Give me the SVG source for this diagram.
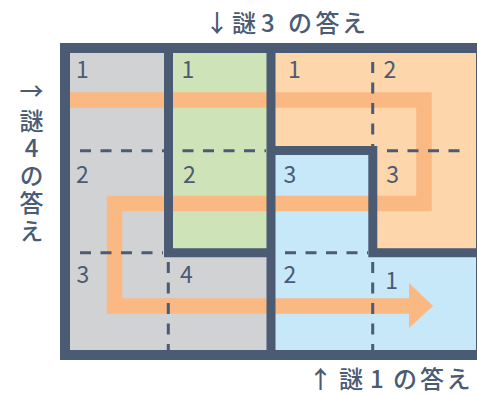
<svg xmlns="http://www.w3.org/2000/svg" width="477" height="395" viewBox="0 0 477 395">
  <style>
    .wall { fill: none; stroke: #4b5b73; stroke-width: 9; stroke-linejoin: miter; }
    .frame { fill: none; stroke: #4b5b73; stroke-width: 10; }
    .dash { stroke: #4b5b73; stroke-width: 3; stroke-dasharray: 11 9.5; fill: none; }
    .num { font-family: "Noto Sans CJK JP", "Noto Sans", sans-serif; font-size: 23px; fill: #4b5b73; text-anchor: middle; }
    .lbl { font-family: "Noto Sans CJK JP", "Noto Sans", sans-serif; font-size: 24px; fill: #4b5b73; font-weight: 500; }
    .mid { text-anchor: middle; }
    .vert { font-family: "Noto Sans CJK JP", "Noto Sans", sans-serif; font-size: 24px; fill: #4b5b73; font-weight: 500; writing-mode: vertical-rl; text-orientation: upright; letter-spacing: 3.6px; }
    .route { fill: none; stroke: #fab882; stroke-width: 15.5; stroke-linejoin: miter; }
  </style>
  <rect width="477" height="395" fill="#ffffff"/>

  <g id="cell-gray">
    <polygon points="70,53 168,53 168,253 271,253 271,351 70,351" fill="#d1d2d4"/>
  </g>
  <g id="cell-green">
    <rect x="168" y="53" width="103" height="200" fill="#cfe3b9"/>
  </g>
  <g id="cell-orange">
    <polygon points="271,53 477,53 477,253 373,253 373,150.5 271,150.5" fill="#fdd6ac"/>
  </g>
  <g id="cell-blue">
    <polygon points="271,150.5 373,150.5 373,253 477,253 477,351 271,351" fill="#c6e8f8"/>
  </g>

  <g id="connectors">
    <path class="route" d="M70 100 H424 V203.5 H114.5 V306 H410"/>
    <polygon points="409,283 433,306 409,328" fill="#fab882"/>
  </g>

  <g id="walls">
    <rect class="frame" x="65" y="48" width="416" height="307"/>
    <path class="wall" d="M168.5 48 V252.8 H271"/>
    <path class="wall" d="M271 48 V355"/>
    <path class="wall" d="M271 150.5 H372.8 V252.8 H476"/>
  </g>

  <g id="dashes">
    <line class="dash" x1="80" y1="150.7" x2="266" y2="150.7"/>
    <line class="dash" x1="387" y1="150.7" x2="466" y2="150.7"/>
    <line class="dash" x1="80" y1="252.7" x2="163" y2="252.7"/>
    <line class="dash" x1="285" y1="252.7" x2="368" y2="252.7"/>
    <line class="dash" x1="372.7" y1="62" x2="372.7" y2="146"/>
    <line class="dash" x1="372.7" y1="262" x2="372.7" y2="350"/>
    <line class="dash" x1="168.3" y1="262" x2="168.3" y2="350"/>
  </g>

  <g id="numbers">
    <text class="num" x="82.5" y="78">1</text>
    <text class="num" x="188" y="78">1</text>
    <text class="num" x="294.5" y="78">1</text>
    <text class="num" x="390" y="78">2</text>
    <text class="num" x="82.5" y="183">2</text>
    <text class="num" x="189.3" y="183">2</text>
    <text class="num" x="290" y="183">3</text>
    <text class="num" x="392.7" y="183">3</text>
    <text class="num" x="83" y="283">3</text>
    <text class="num" x="186.3" y="283">4</text>
    <text class="num" x="290" y="283">2</text>
    <text class="num" x="391.7" y="289">1</text>
  </g>

  <g id="labels">
    <text class="lbl" y="32" x="205 229 232 256 260.9 274.2 288 315.5 342">↓ 謎 3 の答え</text>
    <text class="lbl" y="388" x="308.5 332.5 339 363 369.9 383.2 393 420 446.5">↑ 謎 1 の答え</text>
    <text class="lbl mid" x="31.5" y="100">→</text>
    <text class="vert" x="31.5" y="108.5">謎4の答え</text>
  </g>
</svg>
